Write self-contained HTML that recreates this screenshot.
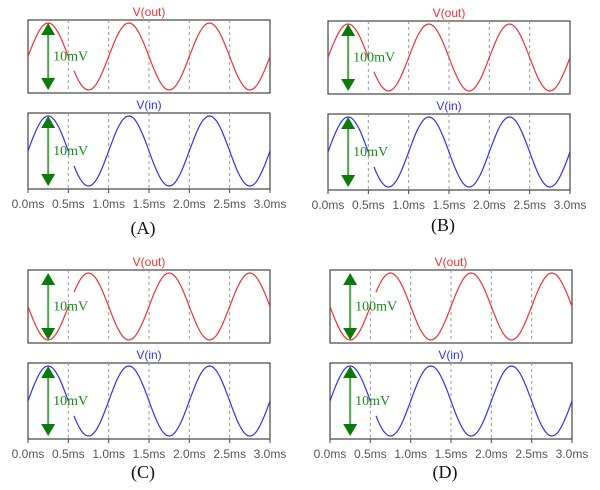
<!DOCTYPE html>
<html><head><meta charset="utf-8"><style>
body{margin:0;background:#fff;width:600px;height:490px;overflow:hidden}
svg{display:block}
.tk{font:12px "Liberation Sans",sans-serif;fill:#555}
.tt{font:12px "Liberation Sans",sans-serif}
.cap{font:18px "Liberation Serif",serif;fill:#111}
.amp{font:14px "Liberation Serif",serif;fill:#1a8a1a}
</style></head><body>
<svg id="c" width="600" height="490"></svg>
<script>
const panelNames=["A","B","C","D"];
const outSign=[1,1,-1,-1];
const outAmpLabels=["10mV","100mV","10mV","100mV"];
const inAmpLabels=["10mV","10mV","10mV","10mV"];
const tickLabels=["0.0ms","0.5ms","1.0ms","1.5ms","2.0ms","2.5ms","3.0ms"];
const tickValues=[0,0.5,1,1.5,2,2.5,3];
const freqKHz=[1];
const tMax=[3];
const layout=[{x:28,y:20,cy:228},{x:328,y:21,cy:225},{x:28,y:270,cy:472},{x:330,y:270,cy:472}];
const NS="http://www.w3.org/2000/svg";
const svg=document.getElementById('c');
function mk(tag,attrs,parent){const e=document.createElementNS(NS,tag);for(const k in attrs)e.setAttribute(k,attrs[k]);(parent||svg).appendChild(e);return e;}
layout.forEach((L,p)=>{
  const W=242,H=73,gap=20;
  const g=mk('g',{});
  
  
  const xs=t=>L.x+t/tMax[0]*W;
  [{y:L.y,name:'v-out',title:'V(out)',col:'#f03030',sign:outSign[p],amp:outAmpLabels[p]},
   {y:L.y+H+gap,name:'v-in',title:'V(in)',col:'#3030f0',sign:1,amp:inAmpLabels[p]}].forEach(s=>{
    const h=s.name==='v-in'?H+3:H;
    const ys=v=>s.y+h/2-v*(h/2-3);
    const r=mk('rect',{x:L.x,y:s.y,width:W,height:h,fill:'none',stroke:'#444','stroke-width':1.2},g);
    
    
    tickValues.slice(1,-1).forEach(tv=>{
      const l=mk('line',{x1:xs(tv),x2:xs(tv),y1:s.y,y2:s.y+h,stroke:'#999','stroke-dasharray':'3,3'},g);
      
      
    });
    const tt=mk('text',{x:L.x+W/2,y:s.y-4,'text-anchor':'middle',class:'tt',fill:s.col},g);
    tt.textContent=s.title;
    
    
    let d1='',d2='';
    for(let i=0;i<=300;i++){const t=tMax[0]*i/300;const v=s.sign*Math.sin(2*Math.PI*freqKHz[0]*t);
      if(t<=0.5)d1+=(d1?'L':'M')+xs(t).toFixed(1)+','+ys(v).toFixed(1);
      else if(t>=0.57)d2+=(d2?'L':'M')+xs(t).toFixed(1)+','+ys(v).toFixed(1);}
    const pth=mk('path',{d:d1+d2,fill:'none',stroke:s.col,'stroke-width':1.2},g);
    
    
    const ax=xs(0.25),top=ys(1),bot=ys(-1);
    const ar=mk('g',{},g);
    
    
    mk('line',{x1:ax,x2:ax,y1:top+10,y2:bot-10,stroke:'#4aa84a','stroke-width':2},ar);
    mk('polygon',{points:`${ax},${top} ${ax-7},${top+12} ${ax+7},${top+12}`,fill:'#0a7a0a'},ar);
    mk('polygon',{points:`${ax},${bot} ${ax-7},${bot-12} ${ax+7},${bot-12}`,fill:'#0a7a0a'},ar);
    const at=mk('text',{x:ax+5,y:s.y+h/2+4,class:'amp'},g);
    at.textContent=s.amp;
    
    
  });
  const by=L.y+2*H+gap+3;
  tickValues.forEach((tv,i)=>{
    mk('line',{x1:xs(tv),x2:xs(tv),y1:by,y2:by+4,stroke:'#444'},g);
    const t=mk('text',{x:xs(tv),y:by+19,'text-anchor':'middle',class:'tk'},g);
    t.textContent=tickLabels[i];
    
    
  });
  const c=mk('text',{x:L.x+W*0.5-6,y:L.cy+6,'text-anchor':'middle',class:'cap'},g);
  c.textContent='('+panelNames[p]+')';
  
  
});
</script>
</body></html>
